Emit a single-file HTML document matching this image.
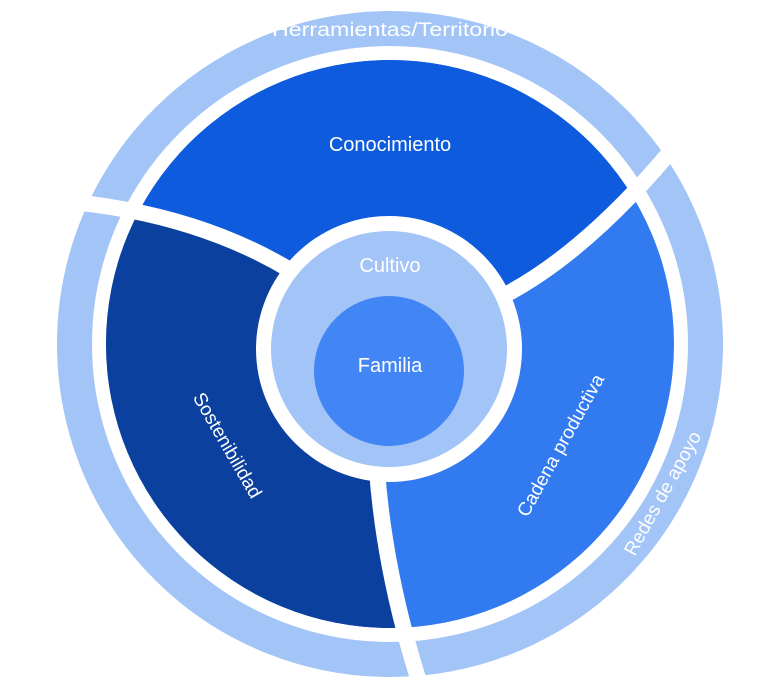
<!DOCTYPE html>
<html><head><meta charset="utf-8"><style>
html,body{margin:0;padding:0;background:#fff;}
svg{display:block;}
text{font-family:"Liberation Sans",sans-serif;fill:#fff;}
</style></head><body>
<svg width="770" height="692" viewBox="0 0 770 692">
<defs><clipPath id="c"><circle cx="390" cy="344" r="284"/></clipPath></defs>
<rect width="770" height="692" fill="#fff"/>
<circle cx="390" cy="344" r="315.5" fill="none" stroke="#A3C4F7" stroke-width="35"/>
<g clip-path="url(#c)">
<rect width="770" height="692" fill="#317AF0"/>
<path d="M390 344 L290 270 Q190 210 50 200 L50 0 L720 0 L680 140 Q590 250 505 295 Z" fill="#0F5BDD"/>
<path d="M390 344 L290 270 Q190 210 50 200 L0 700 L425 700 Q385 580 377 470 Z" fill="#0B409E"/>
</g>
<g fill="none" stroke="#fff" stroke-width="16" stroke-linecap="butt">
<path d="M290 270 Q190 210 50 200"/>
<path d="M505 295 Q590 250 680 140"/>
<path d="M377 470 Q385 580 425 700"/>
</g>
<circle cx="389" cy="349" r="133" fill="#fff"/>
<circle cx="389" cy="349" r="118" fill="#A3C4F7"/>
<circle cx="389" cy="371" r="75" fill="#4285F4"/>
<text x="390" y="36" font-size="19" text-anchor="middle" textLength="236" lengthAdjust="spacingAndGlyphs">Herramientas/Territorio</text>
<text x="390" y="151" font-size="20" text-anchor="middle">Conocimiento</text>
<text x="390" y="272" font-size="20" text-anchor="middle">Cultivo</text>
<text x="390" y="372" font-size="20" text-anchor="middle">Familia</text>
<text x="0" y="0" font-size="19" text-anchor="middle" transform="translate(228,445) rotate(60) translate(0,7)">Sostenibilidad</text>
<text x="0" y="0" font-size="19" text-anchor="middle" transform="translate(560,445) rotate(-61) translate(0,7)">Cadena productiva</text>
<text x="0" y="0" font-size="19" text-anchor="middle" transform="translate(662,493) rotate(-61) translate(0,7)">Redes de apoyo</text>
</svg>
</body></html>
